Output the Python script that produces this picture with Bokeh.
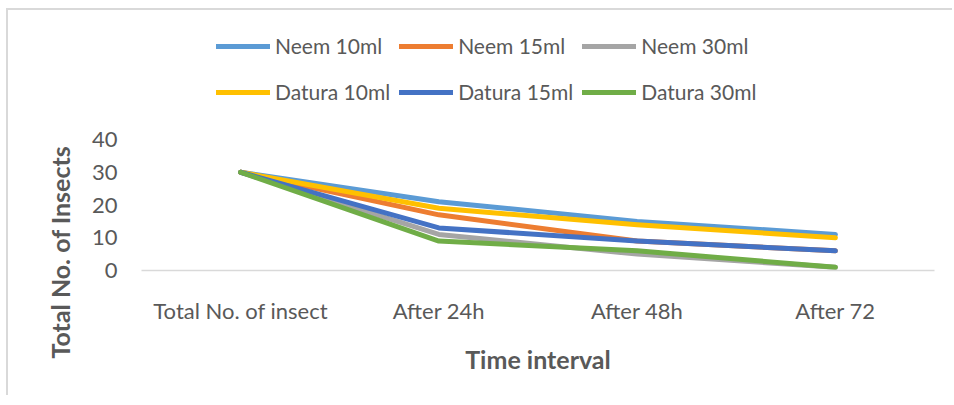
from bokeh.plotting import figure
from bokeh.models import Legend, LegendItem, FactorRange, Range1d, Title, FixedTicker
from bokeh.embed import file_html
from bokeh.resources import INLINE

categories = ["Total No. of insect", "After 24h", "After 48h", "After 72"]
series_names = ["Neem 10ml", "Neem 15ml", "Neem 30ml", "Datura 10ml", "Datura 15ml", "Datura 30ml"]
neem_10 = [30, 21, 15, 11]
neem_15 = [30, 17, 9, 6]
neem_30 = [30, 11, 5, 1]
datura_10 = [30, 19, 14, 10]
datura_15 = [30, 13, 9, 6]
datura_30 = [30, 9, 6, 1]
y_ticks = [0, 10, 20, 30, 40]

colors = ["#5B9BD5", "#ED7D31", "#A5A5A5", "#FFC000", "#4472C4", "#70AD47"]
all_series = [neem_10, neem_15, neem_30, datura_10, datura_15, datura_30]

FONT = "Lato"
TXT = "#595959"

# layout (pixels)
W, H = 946, 387
BORDER_L, BORDER_R, BORDER_T, BORDER_B = 133, 20, 8, 127
frame_h = H - BORDER_T - BORDER_B
px_per_unit = 131 / 40.0          # 0..40 spans 131 px in the reference
y_top = frame_h / px_per_unit     # extra headroom holds the legend

p = figure(x_range=FactorRange(factors=categories, range_padding=0),
           y_range=Range1d(0, y_top),
           width=W, height=H,
           output_backend="svg", toolbar_location=None,
           min_border_left=BORDER_L, min_border_right=BORDER_R,
           min_border_top=BORDER_T, min_border_bottom=BORDER_B)

p.outline_line_color = None
p.xgrid.visible = False
p.ygrid.visible = False
p.background_fill_color = "white"
p.border_fill_color = "white"
p.styles = {"margin-left": "6px", "margin-top": "8px",
            "border-left": "2px solid #D9D9D9", "border-top": "2px solid #D9D9D9"}

items = []
for name, vals, c in zip(series_names, all_series, colors):
    r = p.line(categories, vals, line_color=c, line_width=5,
               line_cap="round", line_join="round")
    items.append(LegendItem(label=name, renderers=[r]))

# x axis
xa = p.xaxis[0]
xa.axis_line_color = "#D9D9D9"
xa.axis_line_width = 1.5
xa.major_tick_line_color = None
xa.minor_tick_line_color = None
xa.major_label_text_font = FONT
xa.major_label_text_font_size = "22px"
xa.major_label_text_color = TXT
xa.major_label_standoff = 20
xa.axis_label = "Time interval"
xa.axis_label_text_font = FONT
xa.axis_label_text_font_size = "25px"
xa.axis_label_text_font_style = "bold"
xa.axis_label_text_color = TXT
xa.axis_label_standoff = 17

# y axis
ya = p.yaxis[0]
ya.ticker = FixedTicker(ticks=y_ticks)
ya.axis_line_color = None
ya.major_tick_line_color = None
ya.minor_tick_line_color = None
ya.major_label_text_font = FONT
ya.major_label_text_font_size = "22px"
ya.major_label_text_color = TXT
ya.major_label_standoff = 18

ytitle = Title(text="Total No. of Insects", align="left", offset=-88,
               text_font=FONT, text_font_size="25px", text_font_style="bold",
               text_color=TXT, standoff=28)
p.add_layout(ytitle, "left")

legend = Legend(items=items, ncols=3, orientation="horizontal",
                location=(75, 160), glyph_width=54, glyph_height=20,
                label_standoff=5, label_height=37, spacing=9,
                padding=0, margin=0, border_line_color=None,
                background_fill_alpha=0,
                label_text_font=FONT, label_text_font_size="21px",
                label_text_color=TXT)
p.add_layout(legend, "center")

open("out.html", "w").write(file_html(p, INLINE))
